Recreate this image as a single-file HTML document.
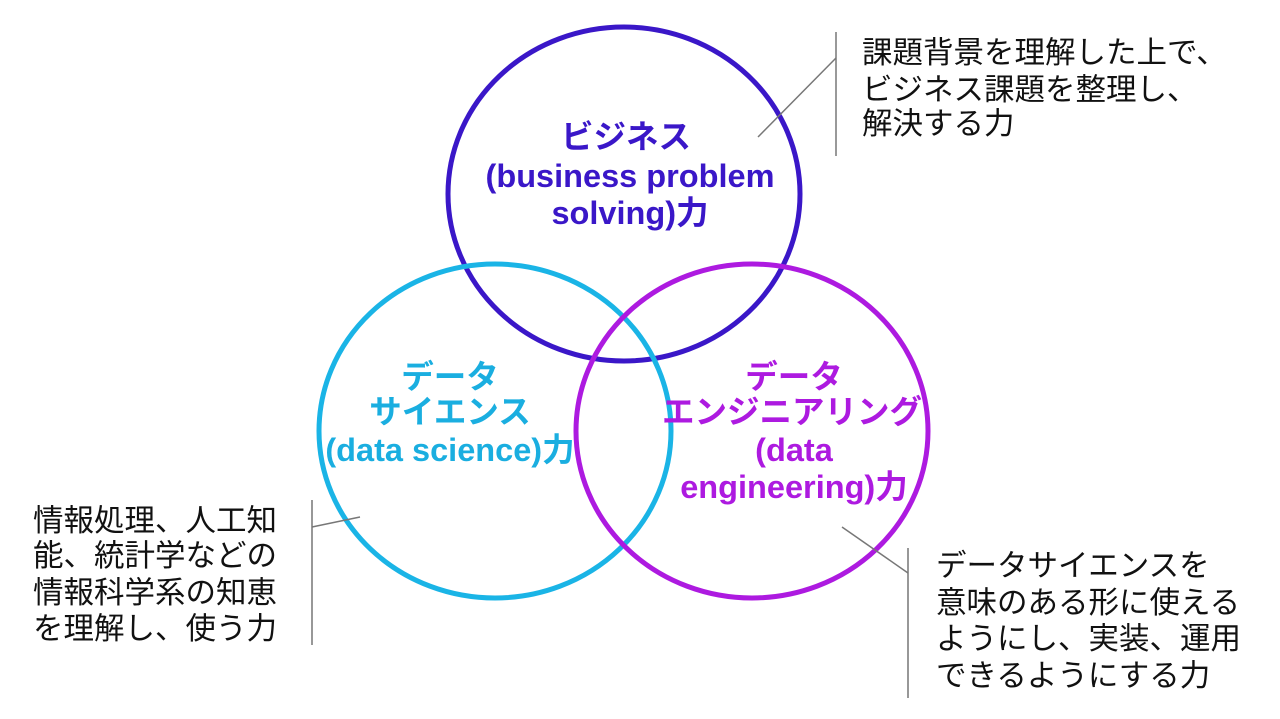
<!DOCTYPE html>
<html><head><meta charset="utf-8"><style>
html,body{margin:0;padding:0;background:#fff;}
svg{display:block;}
text{font-family:"Liberation Sans","Noto Sans CJK JP",sans-serif;}
.b{font-weight:bold;font-size:32.5px;text-anchor:middle;}
.n{font-size:30.5px;fill:#111;}
</style></head><body>
<svg width="1280" height="719" viewBox="0 0 1280 719">
<rect width="1280" height="719" fill="#fff"/>
<ellipse cx="624" cy="194" rx="176" ry="167" fill="none" stroke="#3a17c8" stroke-width="5"/>
<ellipse cx="495" cy="431" rx="176" ry="167" fill="none" stroke="#1ab4e6" stroke-width="5"/>
<ellipse cx="752" cy="431" rx="176" ry="167" fill="none" stroke="#ad1ae0" stroke-width="5"/>

<g fill="#3a17c8">
<text x="626" y="148" class="b">ビジネス</text>
<text x="630" y="187" class="b">(business problem</text>
<text x="630" y="224" class="b">solving)力</text>
</g>
<g fill="#1aaee0">
<text x="450" y="388" class="b">データ</text>
<text x="450" y="423" class="b">サイエンス</text>
<text x="450" y="461" class="b">(data science)力</text>
</g>
<g fill="#ad1ae0">
<text x="794" y="388" class="b">データ</text>
<text x="792" y="423" class="b">エンジニアリング</text>
<text x="794" y="461" class="b">(data</text>
<text x="794" y="498" class="b">engineering)力</text>
</g>

<g stroke="#777" stroke-width="1.5" fill="none">
<line x1="836" y1="32" x2="836" y2="156"/>
<line x1="758" y1="137" x2="836" y2="58"/>
<line x1="312" y1="500" x2="312" y2="645"/>
<line x1="312" y1="527" x2="360" y2="517"/>
<line x1="908" y1="548" x2="908" y2="698"/>
<line x1="842" y1="527" x2="908" y2="573"/>
</g>

<text x="862" y="63" class="n">課題背景を理解した上で、</text>
<text x="862" y="100" class="n">ビジネス課題を整理し、</text>
<text x="862" y="134" class="n">解決する力</text>

<text x="33" y="531" class="n">情報処理、人工知</text>
<text x="33" y="566" class="n">能、統計学などの</text>
<text x="33" y="603" class="n">情報科学系の知恵</text>
<text x="33" y="639" class="n">を理解し、使う力</text>

<text x="936" y="576" class="n">データサイエンスを</text>
<text x="936" y="613" class="n">意味のある形に使える</text>
<text x="936" y="649" class="n">ようにし、実装、運用</text>
<text x="936" y="686" class="n">できるようにする力</text>
</svg>
</body></html>
